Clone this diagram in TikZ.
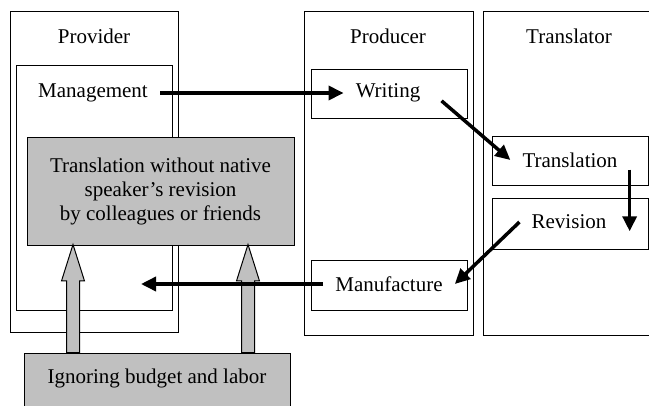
\documentclass[tikz,border=0pt]{standalone}
\usepackage{fontspec}
\setmainfont{Liberation Serif}
\usetikzlibrary{arrows.meta,shapes.arrows}
\definecolor{boxgray}{HTML}{C0C0C0}
\tikzset{
  frame/.style={draw, line width=1pt, inner sep=0pt},
  txt/.style={inner xsep=12pt, inner ysep=2pt},
  flow/.style={-{Triangle[length=15pt,width=14pt]}, line width=3.5pt},
  issue/.style={frame, fill=boxgray},
  uparrow/.style={draw, line width=1pt, fill=boxgray, single arrow, shape border rotate=90,
    minimum height=108pt, single arrow head extend=5pt,
    single arrow tip angle=35, inner sep=6pt, anchor=tail}
}
\begin{document}
\begin{tikzpicture}[x=1pt, y=-1pt, font=\fontsize{21}{24}\selectfont]
\clip (0,0) rectangle (649,405);
\node[frame, minimum width=168pt, minimum height=321pt] (provider) at (94,171.5) {};
\node[frame, minimum width=156pt, minimum height=245pt] (mgmtbox) at (94,187.5) {};
\node[frame, minimum width=169pt, minimum height=324pt] (producer) at (388.5,173) {};
\node[frame, minimum width=180pt, minimum height=324pt] (translator) at (573,173) {};
\node[frame, minimum width=156pt, minimum height=49pt] (writingbox) at (389,93.5) {};
\node[frame, minimum width=156pt, minimum height=50pt] (manubox) at (389,285) {};
\node[frame, minimum width=156pt, minimum height=49pt] (transbox) at (570,160.5) {};
\node[frame, minimum width=156pt, minimum height=51pt] (revbox) at (570,223.5) {};
\node (providerlbl) at (94,36) {Provider};
\node (producerlbl) at (388,36) {Producer};
\node (translatorlbl) at (569,36) {Translator};
\node[txt] (mgmt) at (93,93) {Management};
\node[txt] (writing) at (388,93) {Writing};
\node[txt] (translation) at (570,160) {Translation};
\node[txt] (revision) at (569,222) {Revision};
\node[txt] (manufacture) at (389,284) {Manufacture};
\node[issue, minimum width=267pt, minimum height=108pt, align=center] (nonative) at (160.5,191)
  {Translation without native\\speaker’s revision\\by colleagues or friends};
\node[issue, minimum width=266pt, minimum height=60pt] (ignorebox) at (157,383) {};
\node (ignore) at (157,378) {Ignoring budget and labor};
\node[uparrow] (up1) at (73,353) {};
\node[uparrow] (up2) at (248,353) {};
\coordinate (drop) at (141,284);
\draw[flow] (mgmt.east) -- (writing.west);
\draw[flow, shorten <=12pt] (writing.east) -- (translation.west);
\draw[flow] (translation.south east) -- (translation.south east |- revision.south);
\draw[flow] (revision.west) -- (manufacture.east);
\draw[flow] (manufacture.west) -- (drop);
\end{tikzpicture}
\end{document}
